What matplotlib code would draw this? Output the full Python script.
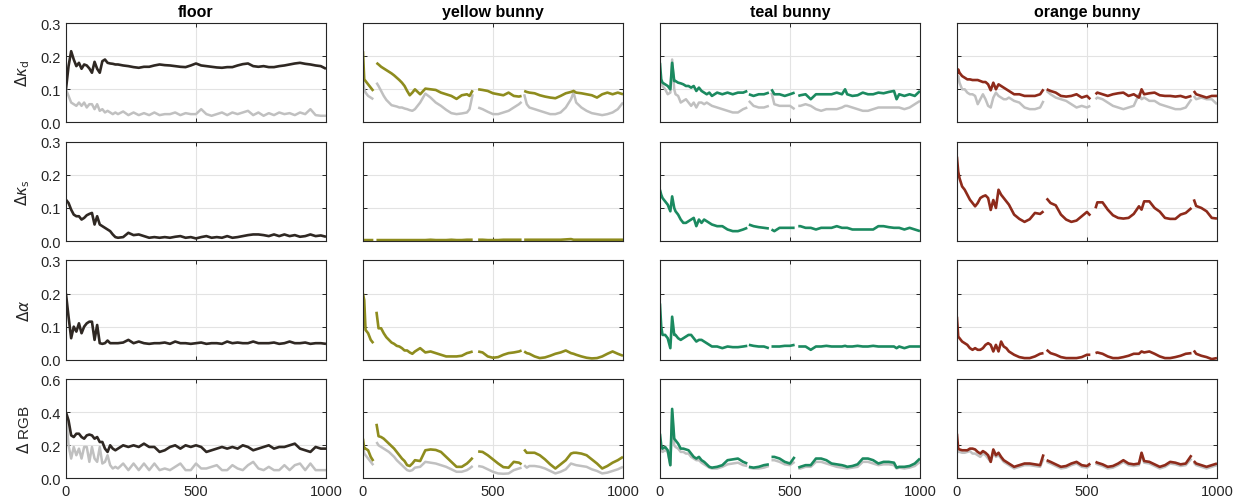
import numpy as np
import matplotlib
matplotlib.use("Agg")
import matplotlib.pyplot as plt

N = np.nan

# ---- sample positions per object (NaN entries in series mark missing frames) ----
floor_x = np.concatenate([np.arange(0, 201, 10), np.arange(220, 1001, 20)])

yellow_x = [0, 5, 10, 20, 30, 40, 46,
            52, 60, 70, 80, 90, 100, 110, 120, 130, 140, 150, 160, 170, 180, 190, 200,
            220, 240, 260, 280, 300, 320, 340, 360, 380, 400, 410, 422, 432,
            443, 460, 480, 500, 520, 540, 560, 580, 600, 610, 615,
            620, 630, 640, 660, 680, 700, 720, 740, 760, 780, 800, 810, 820, 840, 860, 880, 900, 920, 940, 960, 980, 1000]

teal_x = [0, 5, 10, 20, 30, 40, 47, 55, 60,
          70, 80, 90, 100, 110, 120, 130, 140, 150, 160, 170, 180, 190, 200,
          220, 240, 260, 280, 300, 320, 336, 339,
          342, 360, 380, 400, 419, 424,
          429, 440, 460, 480, 500, 518, 525,
          532, 540, 560, 580, 600, 620, 640, 660, 680, 700, 712,
          720, 740, 760, 780, 800, 820, 840, 860, 880, 900, 910, 920, 940, 960, 980, 1000]

orange_x = [0, 5, 10, 20, 30, 40, 50, 60, 70, 80, 90, 100,
            110, 120, 130, 140, 150, 160, 170, 180, 190, 200,
            220, 240, 260, 280, 300, 320, 333, 339,
            345, 360, 380, 400, 420, 440, 460, 480, 500, 513, 523,
            533, 540, 560, 580, 600, 620, 640, 660, 680, 700, 710,
            720, 740, 760, 780, 800, 820, 840, 860, 880, 902, 906,
            911, 920, 940, 960, 980, 1000]

# ---- floor ----
floor_kd = [0.10, 0.17, 0.215, 0.19, 0.17, 0.18, 0.162, 0.175, 0.172, 0.163, 0.15, 0.183, 0.162, 0.15, 0.185, 0.19, 0.18, 0.178, 0.177, 0.175, 0.175,
            0.172, 0.17, 0.167, 0.165, 0.168, 0.168, 0.172, 0.175, 0.173, 0.172, 0.17, 0.168, 0.167, 0.172, 0.178, 0.172, 0.17, 0.168, 0.166, 0.165,
            0.167, 0.167, 0.172, 0.176, 0.178, 0.17, 0.168, 0.17, 0.167, 0.167, 0.17, 0.172, 0.175, 0.178, 0.18, 0.177, 0.175, 0.172, 0.17, 0.162]
floor_kd_gray = [0.10, 0.08, 0.06, 0.055, 0.05, 0.06, 0.05, 0.06, 0.045, 0.055, 0.055, 0.04, 0.055, 0.035, 0.04, 0.03, 0.035, 0.03, 0.025, 0.03, 0.025,
                 0.033, 0.022, 0.03, 0.022, 0.028, 0.022, 0.03, 0.022, 0.025, 0.025, 0.03, 0.022, 0.028, 0.025, 0.025, 0.04, 0.025, 0.02, 0.025, 0.03,
                 0.022, 0.03, 0.025, 0.03, 0.035, 0.022, 0.03, 0.02, 0.028, 0.022, 0.03, 0.025, 0.028, 0.022, 0.03, 0.025, 0.04, 0.022, 0.02, 0.02]
floor_ks = [0.125, 0.115, 0.095, 0.08, 0.075, 0.075, 0.065, 0.07, 0.078, 0.082, 0.085, 0.05, 0.075, 0.05, 0.045, 0.04, 0.035, 0.03, 0.02, 0.012, 0.01,
            0.012, 0.025, 0.018, 0.02, 0.015, 0.01, 0.012, 0.01, 0.012, 0.01, 0.013, 0.015, 0.01, 0.012, 0.008, 0.012, 0.015, 0.01, 0.012, 0.01,
            0.015, 0.01, 0.012, 0.015, 0.018, 0.02, 0.02, 0.018, 0.015, 0.02, 0.015, 0.02, 0.015, 0.018, 0.013, 0.015, 0.02, 0.015, 0.017, 0.013]
floor_alpha = [0.20, 0.13, 0.065, 0.10, 0.085, 0.11, 0.08, 0.10, 0.11, 0.115, 0.115, 0.06, 0.105, 0.05, 0.048, 0.05, 0.058, 0.05, 0.05, 0.05, 0.05,
               0.052, 0.06, 0.05, 0.055, 0.05, 0.048, 0.05, 0.05, 0.052, 0.048, 0.055, 0.05, 0.05, 0.048, 0.05, 0.052, 0.048, 0.05, 0.05, 0.048,
               0.055, 0.05, 0.052, 0.05, 0.05, 0.055, 0.05, 0.05, 0.05, 0.052, 0.048, 0.05, 0.055, 0.05, 0.05, 0.052, 0.048, 0.05, 0.05, 0.048]
floor_rgb = [0.40, 0.35, 0.26, 0.25, 0.27, 0.27, 0.25, 0.24, 0.26, 0.265, 0.26, 0.24, 0.25, 0.22, 0.22, 0.18, 0.16, 0.20, 0.18, 0.17, 0.18,
             0.20, 0.19, 0.20, 0.19, 0.21, 0.19, 0.19, 0.16, 0.17, 0.19, 0.20, 0.18, 0.20, 0.19, 0.20, 0.19, 0.16, 0.17, 0.18, 0.19,
             0.18, 0.19, 0.18, 0.20, 0.19, 0.17, 0.18, 0.19, 0.20, 0.18, 0.19, 0.19, 0.20, 0.21, 0.18, 0.17, 0.16, 0.19, 0.18, 0.18]
floor_rgb_gray = [0.40, 0.20, 0.12, 0.19, 0.14, 0.18, 0.12, 0.19, 0.19, 0.10, 0.19, 0.12, 0.10, 0.19, 0.09, 0.10, 0.14, 0.08, 0.06, 0.07, 0.06,
                  0.09, 0.05, 0.09, 0.05, 0.09, 0.05, 0.09, 0.05, 0.06, 0.05, 0.07, 0.09, 0.05, 0.05, 0.09, 0.06, 0.06, 0.07, 0.08, 0.05,
                  0.05, 0.08, 0.06, 0.05, 0.08, 0.10, 0.06, 0.05, 0.07, 0.05, 0.05, 0.08, 0.05, 0.08, 0.09, 0.05, 0.09, 0.05, 0.05, 0.05]

# ---- yellow bunny ----
yellow_kd = [0.215, 0.13, 0.125, 0.115, 0.105, 0.095, N,
             0.18, 0.175, 0.168, 0.163, 0.158, 0.153, 0.148, 0.142, 0.135, 0.128, 0.12, 0.11, 0.095, 0.082, 0.09, 0.10,
             0.085, 0.102, 0.10, 0.098, 0.09, 0.085, 0.08, 0.071, 0.082, 0.085, 0.08, 0.097, N,
             0.10, 0.098, 0.095, 0.088, 0.085, 0.082, 0.09, 0.08, 0.078, 0.08, N,
             0.095, 0.092, 0.09, 0.088, 0.082, 0.078, 0.075, 0.073, 0.08, 0.088, 0.092, 0.095, 0.09, 0.088, 0.085, 0.082, 0.075, 0.085, 0.09, 0.085, 0.09, 0.085]
yellow_kd_gray = [0.13, 0.10, 0.09, 0.08, 0.075, 0.07, N,
                  0.12, 0.11, 0.095, 0.08, 0.068, 0.06, 0.052, 0.05, 0.048, 0.045, 0.045, 0.042, 0.04, 0.037, 0.035, 0.04,
                  0.06, 0.087, 0.075, 0.06, 0.05, 0.038, 0.028, 0.025, 0.027, 0.03, 0.04, 0.085, N,
                  0.045, 0.04, 0.032, 0.025, 0.025, 0.03, 0.035, 0.045, 0.055, 0.062, N,
                  0.085, 0.055, 0.045, 0.04, 0.035, 0.03, 0.025, 0.025, 0.03, 0.045, 0.07, 0.09, 0.06, 0.045, 0.035, 0.028, 0.025, 0.022, 0.025, 0.03, 0.04, 0.06]
yellow_ks = [0.003, 0.003, 0.003, 0.003, 0.003, 0.003, N,
             0.003, 0.003, 0.003, 0.003, 0.003, 0.003, 0.003, 0.003, 0.003, 0.003, 0.003, 0.003, 0.003, 0.003, 0.003, 0.003,
             0.003, 0.003, 0.004, 0.003, 0.003, 0.003, 0.004, 0.003, 0.003, 0.004, 0.004, 0.004, N,
             0.004, 0.004, 0.003, 0.003, 0.003, 0.004, 0.004, 0.004, 0.004, 0.004, N,
             0.004, 0.004, 0.004, 0.004, 0.004, 0.004, 0.004, 0.004, 0.004, 0.005, 0.006, 0.004, 0.004, 0.004, 0.004, 0.004, 0.004, 0.004, 0.004, 0.004, 0.004, 0.004]
yellow_alpha = [0.20, 0.18, 0.09, 0.08, 0.06, 0.05, N,
                0.145, 0.095, 0.095, 0.08, 0.068, 0.06, 0.052, 0.048, 0.042, 0.04, 0.035, 0.028, 0.028, 0.022, 0.018, 0.025,
                0.035, 0.022, 0.025, 0.02, 0.015, 0.01, 0.01, 0.01, 0.012, 0.02, 0.022, 0.025, N,
                0.025, 0.022, 0.01, 0.006, 0.008, 0.015, 0.02, 0.022, 0.025, 0.028, N,
                0.025, 0.02, 0.018, 0.01, 0.005, 0.007, 0.012, 0.018, 0.022, 0.028, 0.02, 0.018, 0.015, 0.01, 0.006, 0.004, 0.005, 0.01, 0.018, 0.025, 0.018, 0.012]
yellow_rgb = [0.24, 0.18, 0.18, 0.17, 0.13, 0.105, N,
              0.33, 0.255, 0.25, 0.24, 0.225, 0.21, 0.195, 0.18, 0.16, 0.14, 0.12, 0.105, 0.08, 0.075, 0.09, 0.11,
              0.105, 0.17, 0.175, 0.172, 0.16, 0.13, 0.10, 0.07, 0.07, 0.09, 0.105, 0.125, N,
              0.163, 0.16, 0.14, 0.115, 0.09, 0.068, 0.065, 0.10, 0.095, 0.085, N,
              0.175, 0.155, 0.155, 0.155, 0.14, 0.115, 0.085, 0.06, 0.085, 0.11, 0.15, 0.155, 0.155, 0.15, 0.14, 0.115, 0.09, 0.06, 0.075, 0.095, 0.11, 0.13]
yellow_rgb_gray = [0.20, 0.15, 0.14, 0.12, 0.10, 0.08, N,
                   0.22, 0.20, 0.19, 0.18, 0.17, 0.16, 0.145, 0.13, 0.11, 0.095, 0.08, 0.065, 0.05, 0.045, 0.05, 0.065,
                   0.07, 0.10, 0.095, 0.09, 0.08, 0.07, 0.055, 0.04, 0.04, 0.05, 0.06, 0.075, N,
                   0.075, 0.07, 0.055, 0.04, 0.03, 0.028, 0.03, 0.05, 0.06, 0.065, N,
                   0.08, 0.065, 0.075, 0.075, 0.07, 0.06, 0.045, 0.03, 0.04, 0.055, 0.09, 0.085, 0.08, 0.075, 0.07, 0.055, 0.045, 0.03, 0.035, 0.045, 0.055, 0.07]

# ---- teal bunny ----
teal_kd = [0.18, 0.13, 0.12, 0.115, 0.11, 0.10, 0.18, 0.125, 0.125,
           0.12, 0.118, 0.115, 0.11, 0.11, 0.105, 0.11, 0.095, 0.105, 0.095, 0.09, 0.085, 0.09, 0.08,
           0.09, 0.085, 0.09, 0.085, 0.09, 0.09, 0.095, N,
           0.085, 0.08, 0.085, 0.085, 0.09, N,
           0.10, 0.085, 0.085, 0.08, 0.085, 0.09, N,
           0.08, 0.082, 0.085, 0.07, 0.085, 0.085, 0.085, 0.085, 0.09, 0.085, 0.10,
           0.085, 0.08, 0.082, 0.09, 0.085, 0.085, 0.09, 0.088, 0.092, 0.095, 0.07, 0.085, 0.08, 0.085, 0.08, 0.095]
teal_kd_gray = [0.15, 0.12, 0.11, 0.10, 0.085, 0.09, 0.19, 0.10, 0.085,
                0.08, 0.06, 0.065, 0.07, 0.06, 0.05, 0.06, 0.045, 0.06, 0.06, 0.055, 0.06, 0.055, 0.05,
                0.045, 0.04, 0.035, 0.03, 0.03, 0.04, 0.045, N,
                0.065, 0.05, 0.045, 0.045, 0.05, N,
                0.09, 0.055, 0.05, 0.05, 0.05, 0.04, N,
                0.05, 0.05, 0.055, 0.05, 0.04, 0.035, 0.04, 0.04, 0.04, 0.045, 0.05,
                0.05, 0.045, 0.04, 0.035, 0.035, 0.04, 0.045, 0.045, 0.045, 0.045, 0.045, 0.045, 0.04, 0.045, 0.055, 0.065]
teal_ks = [0.155, 0.14, 0.13, 0.12, 0.11, 0.09, 0.135, 0.10, 0.09,
           0.08, 0.065, 0.055, 0.055, 0.06, 0.065, 0.07, 0.045, 0.065, 0.055, 0.065, 0.06, 0.055, 0.05,
           0.045, 0.045, 0.035, 0.03, 0.03, 0.035, 0.04, N,
           0.05, 0.045, 0.042, 0.04, 0.038, N,
           0.035, 0.03, 0.04, 0.04, 0.04, 0.04, N,
           0.045, 0.045, 0.04, 0.04, 0.035, 0.04, 0.04, 0.04, 0.045, 0.04, 0.04,
           0.04, 0.035, 0.035, 0.035, 0.035, 0.035, 0.045, 0.045, 0.042, 0.04, 0.04, 0.04, 0.035, 0.04, 0.035, 0.03]
teal_alpha = [0.17, 0.10, 0.075, 0.075, 0.065, 0.035, 0.13, 0.075, 0.075,
              0.065, 0.06, 0.065, 0.07, 0.075, 0.075, 0.065, 0.055, 0.06, 0.06, 0.055, 0.05, 0.045, 0.04,
              0.04, 0.035, 0.04, 0.038, 0.038, 0.04, 0.042, N,
              0.045, 0.042, 0.04, 0.04, 0.035, N,
              0.04, 0.04, 0.04, 0.042, 0.042, 0.045, N,
              0.04, 0.04, 0.04, 0.03, 0.04, 0.04, 0.042, 0.04, 0.04, 0.04, 0.042,
              0.04, 0.04, 0.042, 0.04, 0.04, 0.042, 0.04, 0.04, 0.04, 0.04, 0.035, 0.04, 0.035, 0.04, 0.04, 0.04]
teal_rgb = [0.27, 0.20, 0.18, 0.19, 0.17, 0.08, 0.42, 0.24, 0.23,
            0.21, 0.18, 0.18, 0.175, 0.17, 0.15, 0.13, 0.12, 0.13, 0.11, 0.10, 0.085, 0.07, 0.065,
            0.07, 0.08, 0.11, 0.115, 0.12, 0.10, 0.09, N,
            0.07, 0.065, 0.07, 0.08, 0.085, N,
            0.13, 0.13, 0.12, 0.10, 0.09, 0.13, N,
            0.065, 0.07, 0.08, 0.08, 0.12, 0.12, 0.11, 0.09, 0.085, 0.08, 0.075,
            0.07, 0.075, 0.085, 0.12, 0.12, 0.11, 0.09, 0.10, 0.10, 0.095, 0.065, 0.07, 0.07, 0.075, 0.09, 0.12]
teal_rgb_gray = [0.23, 0.18, 0.16, 0.17, 0.16, 0.08, 0.40, 0.20, 0.19,
                 0.18, 0.16, 0.16, 0.15, 0.15, 0.13, 0.12, 0.11, 0.11, 0.095, 0.085, 0.075, 0.065, 0.06,
                 0.06, 0.07, 0.085, 0.09, 0.095, 0.08, 0.075, N,
                 0.065, 0.06, 0.06, 0.065, 0.075, N,
                 0.11, 0.11, 0.10, 0.085, 0.08, 0.10, N,
                 0.06, 0.06, 0.07, 0.07, 0.10, 0.10, 0.09, 0.08, 0.07, 0.065, 0.062,
                 0.06, 0.065, 0.07, 0.10, 0.10, 0.09, 0.08, 0.085, 0.085, 0.08, 0.06, 0.065, 0.06, 0.065, 0.075, 0.10]

# ---- orange bunny ----
orange_kd = [0.145, 0.16, 0.15, 0.14, 0.135, 0.13, 0.13, 0.128, 0.128, 0.128, 0.125, 0.122,
             0.122, 0.115, 0.097, 0.12, 0.10, 0.115, 0.11, 0.105, 0.10, 0.095,
             0.085, 0.085, 0.08, 0.08, 0.08, 0.085, 0.10, N,
             0.10, 0.095, 0.09, 0.08, 0.078, 0.08, 0.085, 0.075, 0.08, 0.07, N,
             0.085, 0.09, 0.085, 0.08, 0.085, 0.088, 0.09, 0.08, 0.085, 0.075, 0.10,
             0.085, 0.088, 0.09, 0.082, 0.08, 0.08, 0.078, 0.08, 0.075, 0.08, N,
             0.095, 0.085, 0.08, 0.075, 0.08, 0.08]
orange_kd_gray = [0.13, 0.14, 0.12, 0.10, 0.10, 0.09, 0.085, 0.085, 0.08, 0.055, 0.07, 0.085,
                  0.07, 0.05, 0.045, 0.075, 0.09, 0.08, 0.075, 0.07, 0.07, 0.075,
                  0.065, 0.06, 0.045, 0.04, 0.04, 0.045, 0.065, N,
                  0.095, 0.085, 0.075, 0.07, 0.065, 0.055, 0.045, 0.05, 0.045, 0.05, N,
                  0.07, 0.075, 0.07, 0.06, 0.05, 0.045, 0.04, 0.045, 0.05, 0.085, 0.07,
                  0.075, 0.065, 0.065, 0.055, 0.05, 0.045, 0.04, 0.04, 0.045, 0.07, N,
                  0.08, 0.07, 0.075, 0.07, 0.07, 0.055]
orange_ks = [0.255, 0.21, 0.19, 0.165, 0.155, 0.14, 0.125, 0.115, 0.105, 0.115, 0.13, 0.135,
             0.138, 0.13, 0.094, 0.124, 0.10, 0.155, 0.14, 0.13, 0.12, 0.11,
             0.08, 0.067, 0.058, 0.066, 0.085, 0.082, 0.09, N,
             0.129, 0.115, 0.108, 0.08, 0.065, 0.058, 0.062, 0.075, 0.088, 0.077, N,
             0.099, 0.117, 0.117, 0.095, 0.078, 0.07, 0.068, 0.07, 0.082, 0.105, 0.095,
             0.12, 0.12, 0.10, 0.089, 0.07, 0.067, 0.067, 0.08, 0.085, 0.10, N,
             0.126, 0.106, 0.10, 0.09, 0.07, 0.068]
orange_alpha = [0.13, 0.07, 0.065, 0.055, 0.05, 0.045, 0.035, 0.03, 0.035, 0.03, 0.03, 0.035,
                0.045, 0.05, 0.045, 0.025, 0.045, 0.025, 0.055, 0.04, 0.035, 0.025,
                0.015, 0.008, 0.005, 0.005, 0.01, 0.018, 0.02, N,
                0.03, 0.02, 0.015, 0.008, 0.005, 0.005, 0.005, 0.008, 0.015, 0.015, N,
                0.02, 0.022, 0.018, 0.01, 0.005, 0.005, 0.008, 0.012, 0.018, 0.018, 0.025,
                0.022, 0.025, 0.018, 0.01, 0.005, 0.005, 0.008, 0.012, 0.018, 0.02, N,
                0.028, 0.018, 0.012, 0.008, 0.002, 0.005]
orange_rgb = [0.27, 0.18, 0.175, 0.17, 0.17, 0.17, 0.18, 0.18, 0.175, 0.16, 0.15, 0.165,
              0.155, 0.14, 0.10, 0.175, 0.14, 0.155, 0.13, 0.11, 0.10, 0.09,
              0.07, 0.08, 0.09, 0.09, 0.085, 0.08, 0.145, N,
              0.11, 0.10, 0.085, 0.07, 0.075, 0.09, 0.10, 0.08, 0.075, 0.09, N,
              0.10, 0.095, 0.085, 0.07, 0.075, 0.09, 0.11, 0.09, 0.085, 0.09, 0.155,
              0.105, 0.10, 0.085, 0.07, 0.08, 0.10, 0.095, 0.085, 0.09, 0.14, N,
              0.105, 0.09, 0.08, 0.07, 0.08, 0.09]
orange_rgb_gray = [0.17, 0.16, 0.16, 0.155, 0.155, 0.16, 0.165, 0.15, 0.15, 0.14, 0.13, 0.15,
                   0.14, 0.12, 0.10, 0.16, 0.13, 0.14, 0.12, 0.10, 0.09, 0.08,
                   0.06, 0.07, 0.08, 0.08, 0.075, 0.07, 0.12, N,
                   0.10, 0.09, 0.075, 0.06, 0.065, 0.08, 0.09, 0.07, 0.065, 0.08, N,
                   0.09, 0.085, 0.075, 0.06, 0.065, 0.08, 0.10, 0.08, 0.075, 0.08, 0.15,
                   0.095, 0.09, 0.075, 0.06, 0.07, 0.09, 0.085, 0.075, 0.08, 0.12, N,
                   0.095, 0.08, 0.07, 0.06, 0.07, 0.08]

titles = ["floor", "yellow bunny", "teal bunny", "orange bunny"]
row_labels = [r"$\Delta\kappa_{\rm d}$", r"$\Delta\kappa_{\rm s}$", r"$\Delta\alpha$", r"$\Delta$ RGB"]
colors = ["#2f2823", "#8e8c1e", "#1b8a60", "#8e2b1b"]
gray = "#c0c0c0"

columns = [
    (floor_x, [floor_kd, floor_ks, floor_alpha, floor_rgb], [floor_kd_gray, None, None, floor_rgb_gray]),
    (yellow_x, [yellow_kd, yellow_ks, yellow_alpha, yellow_rgb], [yellow_kd_gray, None, None, yellow_rgb_gray]),
    (teal_x, [teal_kd, teal_ks, teal_alpha, teal_rgb], [teal_kd_gray, None, None, teal_rgb_gray]),
    (orange_x, [orange_kd, orange_ks, orange_alpha, orange_rgb], [orange_kd_gray, None, None, orange_rgb_gray]),
]

plt.rcParams['font.family'] = ['Liberation Sans', 'DejaVu Sans']
plt.rcParams['mathtext.fontset'] = 'dejavusans'

fig, axes = plt.subplots(4, 4, figsize=(12.35, 5.02), dpi=100)
fig.subplots_adjust(left=0.0534, right=0.9854, top=0.952, bottom=0.045, wspace=0.142, hspace=0.195)

for c, (xs, series, grays) in enumerate(columns):
    for r in range(4):
        ax = axes[r, c]
        if grays[r] is not None:
            ax.plot(xs, grays[r], color=gray, lw=1.8, solid_capstyle='butt')
        ax.plot(xs, series[r], color=colors[c], lw=1.9, solid_capstyle='butt')

        ax.set_xlim(0, 1000)
        ymax = 0.6 if r == 3 else 0.3
        ax.set_ylim(0, ymax)
        ax.set_xticks([0, 500, 1000])
        ax.set_yticks(np.linspace(0, ymax, 4))
        ax.grid(True, color="#e3e3e3", lw=0.8)
        ax.set_axisbelow(True)
        ax.tick_params(direction='in', top=True, right=True, length=3, width=0.7,
                       labelsize=10.5, colors="#262626", pad=4)
        for s in ax.spines.values():
            s.set_color("#262626")
            s.set_linewidth(0.8)
        if c == 0:
            ax.yaxis.set_major_formatter(matplotlib.ticker.FormatStrFormatter('%.1f'))
            ax.set_ylabel(row_labels[r], fontsize=11, color="#262626", labelpad=6)
        else:
            ax.set_yticklabels([])
        if r != 3:
            ax.set_xticklabels([])
        if r == 0:
            ax.set_title(titles[c], fontsize=11.5, fontweight='bold', pad=5)

fig.savefig("out.png", dpi=100)
